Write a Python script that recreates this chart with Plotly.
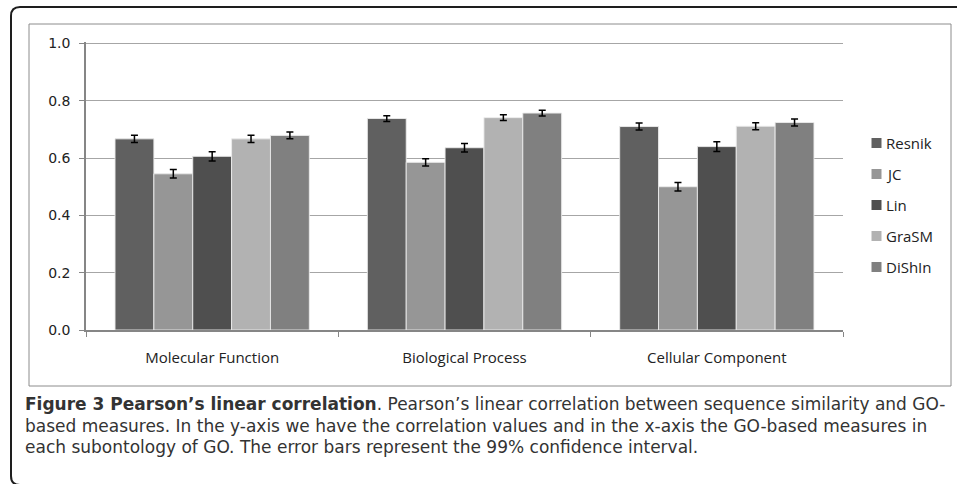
import plotly.graph_objects as go

categories = ["Molecular Function", "Biological Process", "Cellular Component"]
series_names = ["Resnik", "JC", "Lin", "GraSM", "DiShIn"]
values = {
    "Resnik": [0.667, 0.738, 0.710],
    "JC":     [0.545, 0.585, 0.500],
    "Lin":    [0.606, 0.636, 0.640],
    "GraSM":  [0.667, 0.741, 0.711],
    "DiShIn": [0.679, 0.757, 0.724],
}
errors = {
    "Resnik": [0.013, 0.010, 0.012],
    "JC":     [0.015, 0.013, 0.015],
    "Lin":    [0.016, 0.015, 0.017],
    "GraSM":  [0.013, 0.010, 0.012],
    "DiShIn": [0.012, 0.010, 0.012],
}
colors = ["#606060", "#969696", "#4f4f4f", "#b2b2b2", "#808080"]
y_ticks = [0.0, 0.2, 0.4, 0.6, 0.8, 1.0]

caption_bold = "Figure 3 Pearson’s linear correlation"
caption_lines = [
    ". Pearson’s linear correlation between sequence similarity and GO-",
    "based measures. In the y-axis we have the correlation values and in the x-axis the GO-based measures in",
    "each subontology of GO. The error bars represent the 99% confidence interval.",
]

W, H = 957, 484
ML, MR, MT, MB = 86, 114, 42, 154
PW = W - ML - MR
PH = H - MT - MB


def px(x):
    return (x - ML) / PW


def py(y):
    return (H - MB - y) / PH


fig = go.Figure()
for name, col in zip(series_names, colors):
    fig.add_trace(go.Bar(
        name=name, x=categories, y=values[name],
        marker=dict(color=col, line=dict(color="rgba(235,235,235,0.9)", width=1)),
        error_y=dict(type="data", array=errors[name], color="#000000", thickness=1.5, width=3.5),
        showlegend=False,
    ))

shapes = []
# outer rounded border
r = 9
path = (f"M {px(975)},{py(7)} L {px(11 + r)},{py(7)} Q {px(11)},{py(7)} {px(11)},{py(7 + r)} "
        f"L {px(11)},{py(485 - r)} Q {px(11)},{py(485)} {px(11 + r)},{py(485)} L {px(975)},{py(485)}")
shapes.append(dict(type="path", xref="paper", yref="paper", path=path,
                   line=dict(color="#1e1e1e", width=2), layer="above"))
# inner chart frame
shapes.append(dict(type="rect", xref="paper", yref="paper",
                   x0=px(29), x1=px(951), y0=py(24), y1=py(386),
                   line=dict(color="#8c8c8c", width=1), layer="below"))

annotations = []
# legend (manual)
for i, (name, col) in enumerate(zip(series_names, colors)):
    yc = 143 + i * 31
    shapes.append(dict(type="rect", xref="paper", yref="paper",
                       x0=px(871.5), x1=px(881.5), y0=py(yc - 5), y1=py(yc + 5),
                       fillcolor=col, line=dict(width=0)))
    annotations.append(dict(xref="paper", yref="paper", x=px(884), y=py(yc),
                            xanchor="left", yanchor="middle", showarrow=False,
                            text=name, font=dict(family="Open Sans", size=15, color="#222222")))

# caption
cap_font = dict(family="DejaVu Sans", size=17, color="#333333")
line_y = [404, 425.5, 447]
annotations.append(dict(xref="paper", yref="paper", x=px(23), y=py(line_y[0]),
                        xanchor="left", yanchor="middle", showarrow=False,
                        text=f"<b>{caption_bold}</b>{caption_lines[0]}", font=cap_font))
for ly, txt in zip(line_y[1:], caption_lines[1:]):
    annotations.append(dict(xref="paper", yref="paper", x=px(23), y=py(ly),
                            xanchor="left", yanchor="middle", showarrow=False,
                            text=txt, font=cap_font))

fig.update_layout(
    width=W, height=H,
    margin=dict(l=ML, r=MR, t=MT, b=MB, pad=0),
    paper_bgcolor="white", plot_bgcolor="white",
    barmode="group", bargap=0.23, bargroupgap=0,
    showlegend=False,
    shapes=shapes, annotations=annotations,
    xaxis=dict(showline=True, linecolor="#868686", linewidth=1.5,
               ticks="outside", tickson="boundaries", ticklen=5, tickcolor="#868686",
               tickfont=dict(family="Open Sans", size=15, color="#222222"),
               ticklabelstandoff=13, showgrid=False),
    yaxis=dict(range=[0, 1.005], tickvals=y_ticks, ticktext=[f"{v:.1f}" for v in y_ticks],
               showline=True, linecolor="#868686", linewidth=1.5,
               ticks="outside", ticklen=5, tickcolor="#868686",
               showgrid=True, gridcolor="#a6a6a6", gridwidth=1, zeroline=False,
               tickfont=dict(family="DejaVu Sans", size=14, color="#222222"),
               ticklabelstandoff=6),
)

fig.write_html("out.html", config={"displayModeBar": False},
               post_script="document.body.style.margin='0';document.body.style.overflow='hidden';")
